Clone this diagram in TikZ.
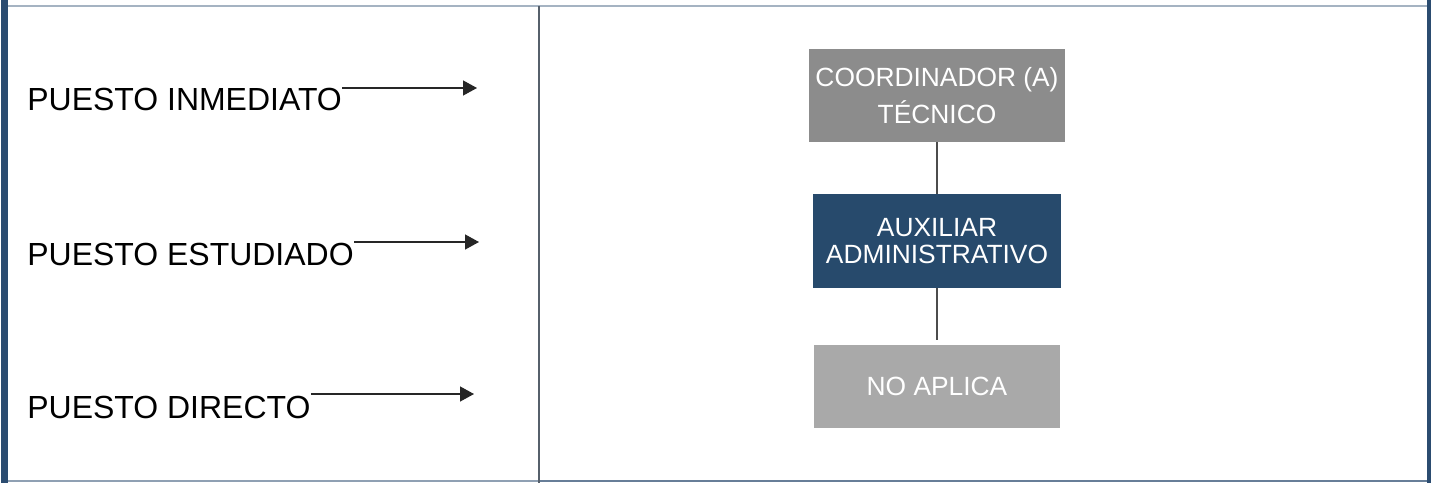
\documentclass[tikz,border=0pt]{standalone}
\usepackage{fontspec}
\setmainfont{Liberation Sans}
\usetikzlibrary{arrows.meta}
\definecolor{marco}{HTML}{2B4C70}
\definecolor{lineagris}{HTML}{8FA0B3}
\definecolor{grisjefe}{HTML}{8C8C8C}
\definecolor{azulpuesto}{HTML}{274A6C}
\definecolor{grisbajo}{HTML}{A9A9A9}

\begin{document}
\begin{tikzpicture}[x=0.02cm,y=-0.02cm,
    etiqueta/.style={anchor=base west,inner sep=0pt,font=\fontsize{18.2}{22}\selectfont},
    caja/.style={minimum width=5cm,inner sep=0pt,align=center,text=white},
    flecha/.style={-{Triangle[length=0.28cm,width=0.3cm]},line width=0.8pt,black!85},
    enlace/.style={line width=0.8pt,black!70}]
    \useasboundingbox (0,0) rectangle (1432,483);
    % marco de la tabla
    \fill[marco] (1,0) rectangle (8,483);
    \fill[marco] (1427,0) rectangle (1431,483);
    \draw[lineagris!80,line width=0.9pt] (8,6)--(1427,6);
    \draw[lineagris,line width=1.2pt] (8,481)--(539,481);
    \draw[lineagris!60!marco,line width=1.5pt] (539,481)--(1427,481);
    \draw[lineagris!60!black,line width=0.9pt] (539,6)--(539,483);
    % columna izquierda
    \node[etiqueta] (inm) at (27,111) {PUESTO INMEDIATO};
    \node[etiqueta] (est) at (27,265) {PUESTO ESTUDIADO};
    \node[etiqueta] (dir) at (27,418) {PUESTO DIRECTO};
    \coordinate (pinm) at (477,88);
    \coordinate (pest) at (479,242);
    \coordinate (pdir) at (474,394);
    \draw[flecha] (inm.east |- pinm) -- (pinm);
    \draw[flecha] (est.east |- pest) -- (pest);
    \draw[flecha] (dir.east |- pdir) -- (pdir);
    % organigrama
    \node[caja,fill=grisjefe,minimum width=5.12cm,minimum height=1.86cm,
          font=\fontsize{15}{21}\selectfont] (jefe) at (937,95.5) {COORDINADOR (A)\\TÉCNICO};
    \node[caja,fill=azulpuesto,minimum width=4.98cm,minimum height=1.88cm,
          font=\fontsize{15}{15.5}\selectfont] (puesto) at (937,241) {AUXILIAR\\ADMINISTRATIVO};
    \node[caja,fill=grisbajo,minimum width=4.92cm,minimum height=1.66cm,
          font=\fontsize{15}{15.5}\selectfont] (directo) at (937,386.5) {NO APLICA};
    \draw[enlace] (jefe) -- (puesto);
    \draw[enlace] (puesto) -- ([yshift=0.1cm]directo.north);
\end{tikzpicture}
\end{document}
